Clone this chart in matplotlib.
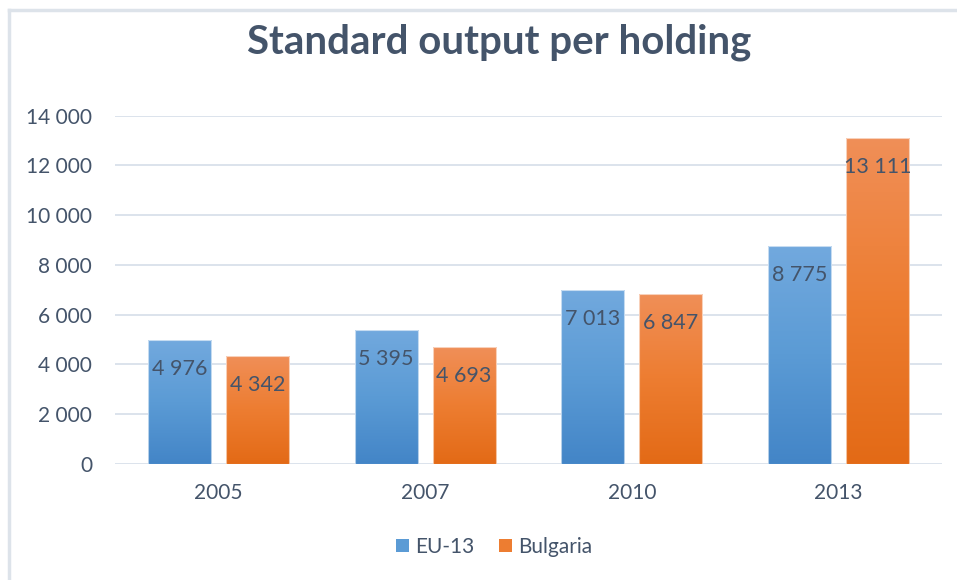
import matplotlib
matplotlib.use("Agg")
import matplotlib.pyplot as plt
import numpy as np
from matplotlib.lines import Line2D
from matplotlib.colors import LinearSegmentedColormap
from matplotlib.patches import Patch

years = ["2005", "2007", "2010", "2013"]
eu13 = [4976, 5395, 7013, 8775]
bulgaria = [4342, 4693, 6847, 13111]
series_names = ["EU-13", "Bulgaria"]
yticks = [0, 2000, 4000, 6000, 8000, 10000, 12000, 14000]

TXT = "#44546A"
FONT = "Lato"
plt.rcParams["font.family"] = [FONT, "DejaVu Sans"]

fig = plt.figure(figsize=(9.57, 5.80), dpi=100)
ax = fig.add_axes([115/957, 1-464/580, (942-115)/957, (464-115.7)/580])

x = np.arange(len(years))
w = 0.305
off = 0.1886

grad_specs = [
    ("#72A9DE", "#4385C7", "#5B9BD5"),
    ("#F08F58", "#E36A16", "#ED7D31"),
]

def grad_bars(xs, vals, spec):
    top, bot, mid = spec
    cmap = LinearSegmentedColormap.from_list("g", [bot, mid, top])
    bars = ax.bar(xs, vals, w, color="none", edgecolor=(1, 1, 1, 0.6), linewidth=0.8, zorder=3)
    grad = np.linspace(0, 1, 256).reshape(-1, 1)
    for r in bars:
        x0, y0 = r.get_x(), r.get_y()
        im = ax.imshow(grad, extent=[x0, x0 + r.get_width(), y0, y0 + r.get_height()],
                       origin="lower", aspect="auto", cmap=cmap, zorder=2)
        im.set_clip_path(r)
    return bars

b1 = grad_bars(x - off, eu13, grad_specs[0])
b2 = grad_bars(x + off, bulgaria, grad_specs[1])

for bars, vals in ((b1, eu13), (b2, bulgaria)):
    for r, v in zip(bars, vals):
        ax.annotate(f"{v:,}".replace(",", " "), (r.get_x() + r.get_width()/2, v),
                    xytext=(0, -21), textcoords="offset points", ha="center", va="center",
                    fontsize=15.5, color=TXT, zorder=5)

ax.set_xlim(-0.5, 3.5)
ax.set_ylim(0, 14000)
ax.set_yticks(yticks)
ax.set_yticklabels([f"{t:,}".replace(",", " ") for t in yticks])
ax.set_xticks(x)
ax.set_xticklabels(years)
ax.tick_params(axis="both", length=0, labelsize=15, colors=TXT)
ax.tick_params(axis="y", pad=16.5)
ax.tick_params(axis="x", pad=14)
ax.grid(axis="y", color="#DCE3EC", linewidth=1.4, zorder=0)
ax.set_axisbelow(True)
for s in ax.spines.values():
    s.set_visible(False)

fig.text(499/957, 1-42/580, "Standard output per holding", ha="center", va="center",
         fontsize=28.9, fontweight="bold", color=TXT)

handles = [Patch(facecolor=grad_specs[0][2]), Patch(facecolor=grad_specs[1][2])]
fig.legend(handles, series_names, loc="center", bbox_to_anchor=(494/957, 1-547/580),
           ncol=2, frameon=False, fontsize=15, labelcolor=TXT,
           handlelength=0.6, handleheight=0.6, handletextpad=0.3, columnspacing=1.2)

fig.add_artist(Line2D([9/957, 957/957], [1-10/580, 1-10/580], color="#DDE3EA", linewidth=2.5))
fig.add_artist(Line2D([9/957, 9/957], [1-10/580, 0], color="#DDE3EA", linewidth=2.5))

fig.savefig("out.png", dpi=100)
